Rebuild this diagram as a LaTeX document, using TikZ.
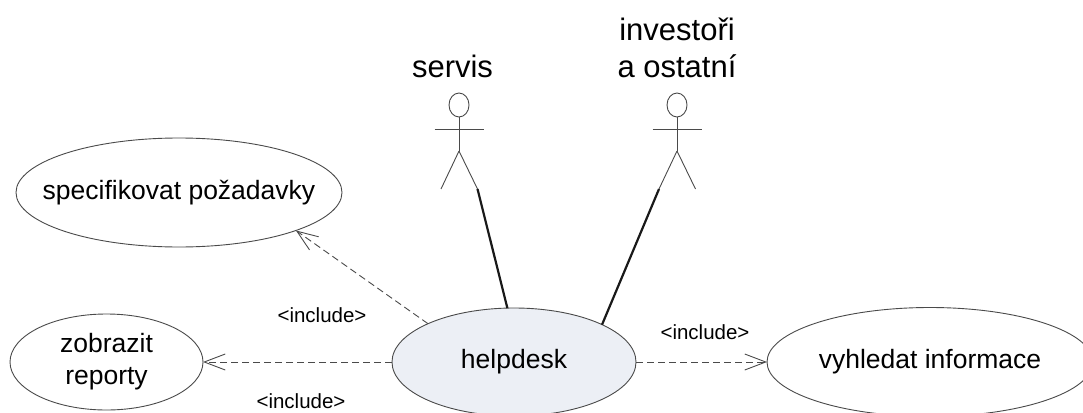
\documentclass[tikz,border=0pt]{standalone}
\usepackage{fontspec}
\setmainfont{Liberation Sans}
\usetikzlibrary{shapes.geometric, arrows.meta}
\definecolor{linegray}{HTML}{4A4A4A}
\definecolor{helpfill}{HTML}{ECEFF5}
\tikzset{
	usecase/.style={draw=linegray, ellipse, line width=0.9pt, inner xsep=-60pt, inner ysep=0pt, outer sep=0pt, align=center, font=\fontsize{26.5}{32}\selectfont},
	head/.style={draw=linegray, ellipse, line width=0.9pt, inner sep=0pt, outer sep=0pt, minimum width=20pt, minimum height=24pt},
	stick/.style={draw=linegray, line width=0.9pt},
	actorlabel/.style={align=center, inner sep=0pt, font=\fontsize{31}{37}\selectfont},
	inclabel/.style={inner sep=0pt, font=\fontsize{20.5}{24}\selectfont},
	assoc/.style={line width=2.2pt, black!90},
	incl/.style={draw=linegray, line width=0.9pt, dash pattern=on 7pt off 4pt, -{Straight Barb[length=21pt,width=16pt,line width=0.9pt]}},
}
\newcommand{\actorfig}[2]{
	\node[head] (#1head) at (#2,105) {};
	\draw[stick] (#1head.south) -- ++(0,34) coordinate (#1hip);
	\draw[stick] (#2-24.5,129) -- (#2+24.5,129);
	\draw[stick] (#1hip) -- ++(-18,38) coordinate (#1lleg);
	\draw[stick] (#1hip) -- ++(18.5,38) coordinate (#1rleg);
}

\begin{document}
\begin{tikzpicture}[x=1pt, y=-1pt]
	\useasboundingbox (0,0) rectangle (1083,412);
	\clip (0,0) rectangle (1083,412);

	\node[usecase, minimum width=326pt, minimum height=109pt]  (spec)  at (179,192.5)  {specifikovat požadavky};
	\node[usecase, minimum width=193pt, minimum height=96pt]  (report)  at (106.5,362)  {zobrazit\\reporty};
	\node[usecase, fill=helpfill, minimum width=244pt, minimum height=108pt]  (help)  at (514,362)  {helpdesk};
	\node[usecase, minimum width=326pt, minimum height=109pt]  (search)  at (930,362)  {vyhledat informace};

	\actorfig{servis}{459}
	\actorfig{invest}{677}
	\node[actorlabel]  (servislabel)  at (452.5,66)  {servis};
	\node[actorlabel]  (investlabel)  at (677,48)  {investoři\\a ostatní};

	\draw[assoc] (servisrleg) -- (help.97);
	\draw[assoc] (investlleg) -- (help.23);

	\draw[incl] (help.156) -- (spec.-18.5);
	\draw[incl] (help.west) -- (report.east);
	\draw[incl] (help.east) -- (search.west);

	\node[inclabel]  (inclspec)  at (322,315)  {<include>};
	\node[inclabel]  (inclreport)  at (301,401.5)  {<include>};
	\node[inclabel]  (inclsearch)  at (705,332)  {<include>};
\end{tikzpicture}
\end{document}
